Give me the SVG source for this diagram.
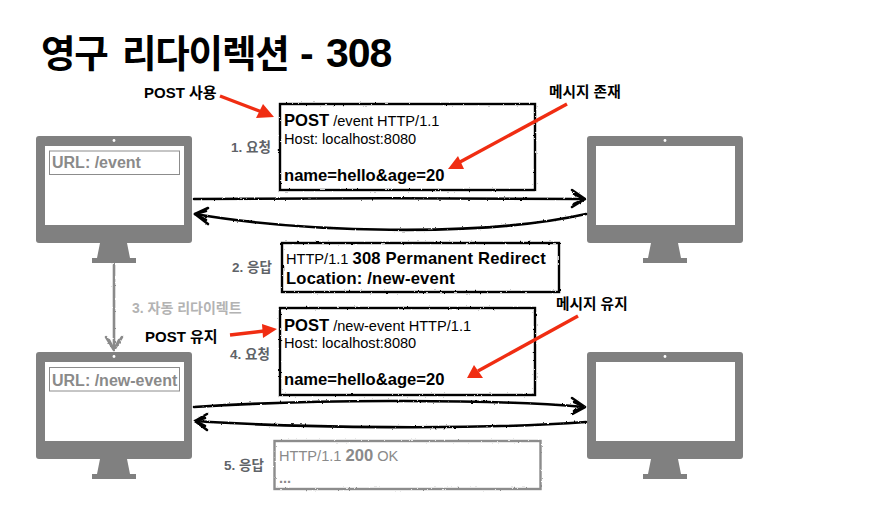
<svg xmlns="http://www.w3.org/2000/svg" width="873" height="508" viewBox="0 0 873 508">
<style>
text{font-family:"Liberation Sans","Noto Sans CJK KR",sans-serif;fill:#000}
.b{font-weight:700}
.m{fill:#808080}
.s{fill:#fff}
.url{fill:#fff;stroke:#8c8c8c;stroke-width:1}
.ut{font-size:16px;font-weight:700;fill:#8a8a8a}
.box{fill:#fff;stroke:#000;stroke-width:2.4}
.grey{fill:#fff;stroke:#8c8c8c;stroke-width:2.4}
.step{font-size:13.500px;font-weight:700;fill:#5f6368}
.t14{font-size:14.600px}
.t16b{font-size:16.600px;font-weight:700}
.wide{letter-spacing:.2px}
.lab{font-size:15px;font-weight:700}
.lab2{font-size:14.700px;font-weight:700}
.g{fill:#8a8a8a}
.wire{fill:none;stroke:#000;stroke-width:2.6;stroke-linecap:round;stroke-linejoin:round}
.gw{fill:none;stroke:#8a8a8a;stroke-width:2.6;stroke-linecap:round;stroke-linejoin:round}
.red{fill:none;stroke:#f02d12;stroke-width:3.400}
.rh{fill:#f02d12}
</style>
<defs>
<filter id="rough" x="-5%" y="-20%" width="110%" height="140%">
<feTurbulence type="fractalNoise" baseFrequency="0.35" numOctaves="2" seed="4"/>
<feDisplacementMap in="SourceGraphic" scale="2.2" xChannelSelector="R" yChannelSelector="G"/>
</filter>
<g id="mon">
<rect class="m" x="0" y="0" width="156" height="107" rx="3"/>
<rect class="s" x="9" y="10" width="139" height="79"/>
<circle class="s" cx="78" cy="4.500" r="1.400"/>
<path class="m" d="M64 107H91L94 122H100V127H56V122H61Z"/>
</g>
</defs>
<text y="67" class="b" font-size="37.500" letter-spacing="-1.200"><tspan x="41">영구</tspan><tspan x="122">리다이렉션</tspan><tspan x="300" font-size="41" letter-spacing="0">-</tspan><tspan x="326" font-size="41" letter-spacing="-1">308</tspan></text>
<g id="client-top"><use href="#mon" x="36" y="136"/><rect class="url" x="49.500" y="151" width="130" height="23.500"/><text x="52" y="168" class="ut">URL: /event</text></g>
<g id="server-top"><use href="#mon" x="587" y="136"/></g>
<g id="client-bottom"><use href="#mon" x="36" y="352"/><rect class="url" x="49.500" y="367.500" width="130" height="23.500"/><text x="52" y="386" class="ut">URL: /new-event</text></g>
<g id="server-bottom"><use href="#mon" x="587" y="352"/></g>
<g id="request-1"><rect class="box" x="280" y="104" width="255" height="86" filter="url(#rough)"/>
<text x="284" y="126"><tspan class="t16b">POST</tspan><tspan class="t14" dx="4">/event HTTP/1.1</tspan></text>
<text x="284" y="144" class="t14">Host: localhost:8080</text>
<text x="284" y="181" class="t16b">name=hello&amp;age=20</text></g>
<g id="response-2"><rect class="box" x="282" y="243" width="277" height="49" filter="url(#rough)"/>
<text x="286" y="264"><tspan class="t14">HTTP/1.1 </tspan><tspan class="t16b wide">308 Permanent Redirect</tspan></text>
<text x="286" y="284" class="t16b wide">Location: /new-event</text></g>
<g id="request-4"><rect class="box" x="280" y="308" width="255" height="87" filter="url(#rough)"/>
<text x="284" y="331"><tspan class="t16b">POST</tspan><tspan class="t14" dx="4">/new-event HTTP/1.1</tspan></text>
<text x="284" y="348" class="t14">Host: localhost:8080</text>
<text x="284" y="385" class="t16b">name=hello&amp;age=20</text></g>
<g id="response-5"><rect class="grey" x="274.500" y="441" width="266" height="48" filter="url(#rough)"/>
<text x="279" y="461"><tspan class="t14 g">HTTP/1.1 </tspan><tspan class="t16b g">200</tspan><tspan class="t14 g"> OK</tspan></text>
<text x="279" y="483" class="t14 g b">...</text></g>
<g id="connectors">
<g filter="url(#rough)">
<path class="wire" d="M194 199C300 198 480 198 584 199"/>
<path class="wire" d="M572 190L585 199L572 207M574 194L585 199L574 204"/>
<path class="wire" d="M586 214C480 238 300 232 195 214"/>
<path class="wire" d="M208 208L195 214L208 224M206 211L195 214L206 220"/>
<path class="wire" d="M194 407C300 400 480 398 584 407"/>
<path class="wire" d="M572 398L585 407L572 414M574 402L585 407L574 411"/>
<path class="wire" d="M586 422C480 430 300 428 195 421"/>
<path class="wire" d="M207 414L195 421L207 430M205 418L195 421L205 426"/>
<path class="gw" d="M114 264V349"/>
<path class="gw" d="M106 337L114 350L122 337M109 340L114 350L119 340"/>
</g>
<path class="red" d="M220 96L262 112"/><path class="rh" d="M274 117L256 118L263 104Z"/>
<path class="red" d="M230 335L264 331"/><path class="rh" d="M277 329L263 338L262 324Z"/>
<path class="red" d="M567 104L460 162"/><path class="rh" d="M448 169L458 156L464 169Z"/>
<path class="red" d="M578 316L478 371"/><path class="rh" d="M467 378L474 365L483 378Z"/>
</g>
<text x="231" y="152" class="step">1. 요청</text>
<text x="232" y="272" class="step">2. 응답</text>
<text x="132" y="313" class="step" style="fill:#b3b3b3;font-size:14px">3. 자동 리다이렉트</text>
<text x="230" y="359" class="step">4. 요청</text>
<text x="224" y="470" class="step">5. 응답</text>
<text x="144" y="98" class="lab">POST 사용</text>
<text x="145" y="342" class="lab">POST 유지</text>
<text x="549" y="97" class="lab2">메시지 존재</text>
<text x="556" y="309" class="lab2">메시지 유지</text>
</svg>
